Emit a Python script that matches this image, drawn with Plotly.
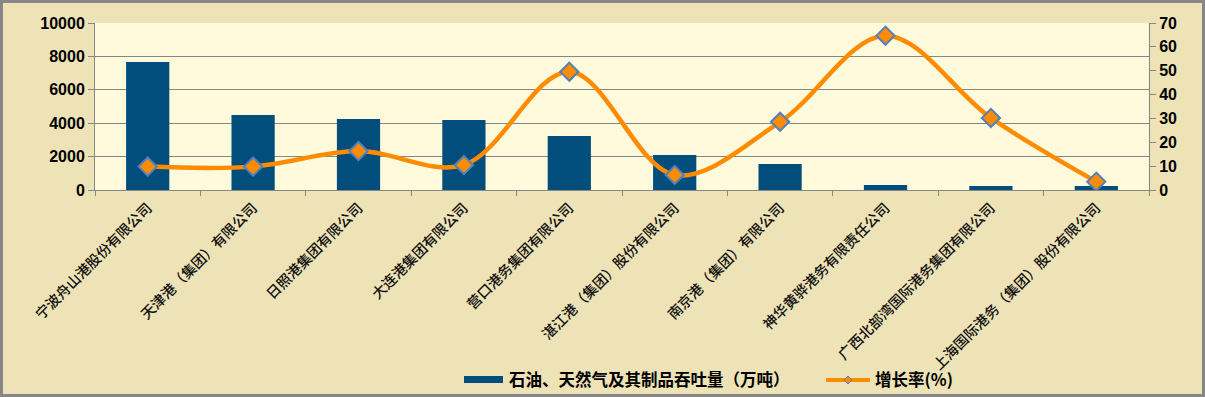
import plotly.graph_objects as go

# Port companies
companies = [
    "宁波舟山港股份有限公司",
    "天津港（集团）有限公司",
    "日照港集团有限公司",
    "大连港集团有限公司",
    "营口港务集团有限公司",
    "湛江港（集团）股份有限公司",
    "南京港（集团）有限公司",
    "神华黄骅港务有限责任公司",
    "广西北部湾国际港务集团有限公司",
    "上海国际港务（集团）股份有限公司",
]
# Oil, natural gas and products throughput (10k tonnes)
throughput = [7660, 4490, 4250, 4190, 3230, 2100, 1560, 300, 240, 240]
# Growth rate (%)
growth = [9.8, 9.8, 16.3, 10.5, 49.6, 6.3, 28.6, 64.7, 30.2, 3.5]

bar_name = "石油、天然气及其制品吞吐量（万吨）"
line_name = "增长率(%)"

W, H = 1205, 397
ML, MR, MT, MB = 95, 56, 23, 207
PW, PH = W - ML - MR, H - MT - MB

BAR_COLOR = "#014D7B"
LINE_COLOR = "#FF8C00"
GRID = "#868686"
CJK = "Noto Sans CJK SC, Microsoft YaHei, sans-serif"
NUM = "Liberation Sans, Arial, sans-serif"


def px_x(x):
    return (x - ML) / PW


def px_y(y):
    return 1 - (y - MT) / PH


fig = go.Figure()
fig.add_trace(go.Bar(
    x=companies, y=throughput, name=bar_name,
    marker=dict(color=BAR_COLOR, line=dict(width=0)),
    width=0.41, yaxis="y", showlegend=False,
))
fig.add_trace(go.Scatter(
    x=companies, y=growth, name=line_name, mode="lines+markers",
    line=dict(color=LINE_COLOR, width=4.5, shape="spline", smoothing=1),
    marker=dict(symbol="diamond", size=14, color=LINE_COLOR,
                line=dict(color="#4F81BD", width=2)),
    yaxis="y2", showlegend=False,
))

shapes = [
    # outer frame
    dict(type="rect", xref="paper", yref="paper",
         x0=px_x(1.5), x1=px_x(W - 1.5), y0=px_y(1.5), y1=px_y(H - 1.5),
         line=dict(color="#878787", width=3), fillcolor="rgba(0,0,0,0)",
         layer="above"),
    # legend key: bars
    dict(type="rect", xref="paper", yref="paper",
         x0=px_x(464), x1=px_x(503), y0=px_y(376), y1=px_y(383),
         line=dict(width=0), fillcolor=BAR_COLOR),
    # legend key: line with marker
    dict(type="line", xref="paper", yref="paper",
         x0=px_x(826), x1=px_x(870), y0=px_y(380), y1=px_y(380),
         line=dict(color=LINE_COLOR, width=4)),
    dict(type="path", xref="paper", yref="paper",
         path="M {a},{c} L {b},{d} L {e},{c} L {b},{f} Z".format(
             a=px_x(844), b=px_x(848), e=px_x(852),
             c=px_y(380), d=px_y(376), f=px_y(384)),
         line=dict(color="#4F81BD", width=1), fillcolor=LINE_COLOR),
]

annotations = [
    dict(xref="paper", yref="paper", x=px_x(507), y=px_y(379),
         xanchor="left", yanchor="middle", showarrow=False, text=bar_name,
         font=dict(family=CJK, size=16.5, color="#000000", weight="bold")),
    dict(xref="paper", yref="paper", x=px_x(873), y=px_y(379),
         xanchor="left", yanchor="middle", showarrow=False, text=line_name,
         font=dict(family=CJK, size=16.5, color="#000000", weight="bold")),
]

fig.update_layout(
    width=W, height=H,
    margin=dict(l=ML, r=MR, t=MT, b=MB, autoexpand=False),
    paper_bgcolor="#EEE3B6",
    plot_bgcolor="#FFFADC",
    xaxis=dict(
        type="category", range=[-0.5, len(companies) - 0.5],
        tickangle=-45, tickson="boundaries",
        ticks="outside", ticklen=5, tickcolor=GRID,
        showline=True, linecolor=GRID, linewidth=1,
        showgrid=False, ticklabelshift=0, ticklabelstandoff=3,
        tickfont=dict(family=CJK, size=14.3, color="#111111", weight=500),
    ),
    yaxis=dict(
        range=[0, 10000], dtick=2000, tickformat="d",
        ticks="outside", ticklen=6,
        tickcolor=GRID, showline=True, linecolor=GRID, linewidth=1,
        showgrid=True, gridcolor=GRID, gridwidth=1, zeroline=False,
        tickfont=dict(family=NUM, size=16, color="#000000", weight="bold"),
    ),
    yaxis2=dict(
        range=[0, 70], dtick=10, overlaying="y", side="right",
        ticks="outside", ticklen=6, tickcolor=GRID,
        showline=True, linecolor=GRID, linewidth=1,
        showgrid=False, zeroline=False,
        tickfont=dict(family=NUM, size=16, color="#000000", weight="bold"),
    ),
    shapes=shapes,
    annotations=annotations,
)

fig.write_html("out.html")
